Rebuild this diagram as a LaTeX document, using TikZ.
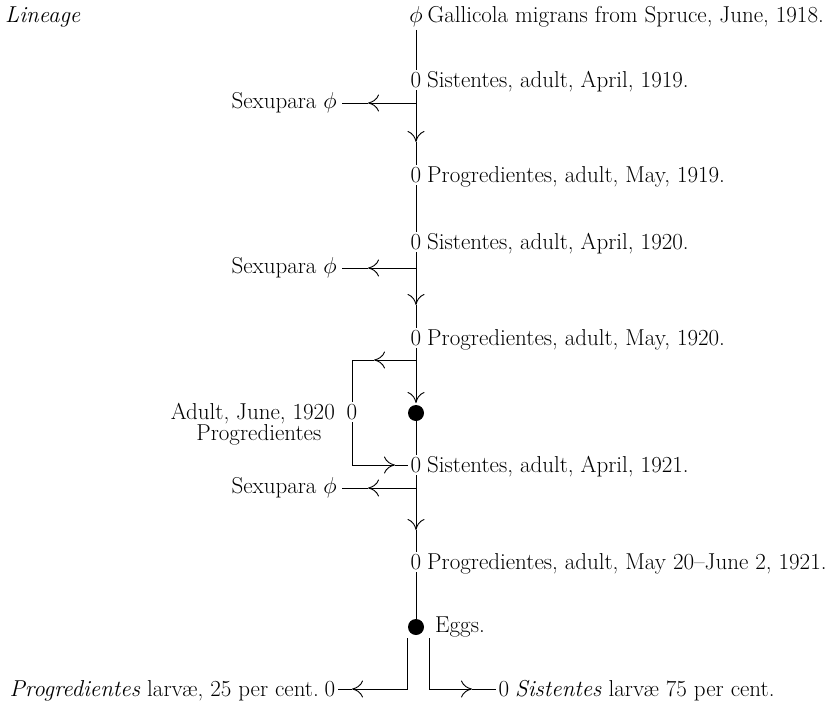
\RequirePackage{fix-cm}
\documentclass[tikz,border=0pt]{standalone}
\usetikzlibrary{arrows.meta}
\begin{document}
\begin{tikzpicture}[x=1pt,y=-1pt,
  every node/.style={font=\fontsize{23}{27}\selectfont, inner sep=0pt},
  zero/.style={inner sep=2.5pt},
  side/.style={inner xsep=5pt},
  link/.style={line width=0.9pt},
  arr/.style={link,-{Computer Modern Rightarrow[length=11pt,width=17pt,line width=0.9pt]}},
  blob/.style={circle,fill=black,minimum size=16pt,inner sep=0pt}]
\useasboundingbox (0,0) rectangle (835,704);

% heading
\node[anchor=base west] (lin) at (5,22) {\itshape Lineage};

% main column of generations
\node[zero] (g18) at (416,17) {$\phi$};
\node[anchor=base west] at ([xshift=2pt]g18.base east) {Gallicola migrans from Spruce, June, 1918.};

\node[zero] (s19) at (416,80) {0};
\node[anchor=base west] at ([xshift=3pt]s19.base east) {Sistentes, adult, April, 1919.};

\node[zero] (p19) at (416,175) {0};
\node[anchor=base west] at ([xshift=3pt]p19.base east) {Progredientes, adult, May, 1919.};

\node[zero] (s20) at (416,242) {0};
\node[anchor=base west] at ([xshift=3pt]s20.base east) {Sistentes, adult, April, 1920.};

\node[zero] (p20) at (416,338) {0};
\node[anchor=base west] at ([xshift=3pt]p20.base east) {Progredientes, adult, May, 1920.};

\node[blob] (d20) at (416,413) {};

\node[zero] (s21) at (416,465) {0};
\node[anchor=base west] at ([xshift=3pt]s21.base east) {Sistentes, adult, April, 1921.};

\node[zero] (p21) at (416,562) {0};
\node[anchor=base west] at ([xshift=3pt]p21.base east) {Progredientes, adult, May 20--June 2, 1921.};

\node[blob] (egg) at (416,627) {};
\node[anchor=west] at (435,627) {Eggs.};

% side generation of 1920
\node[zero] (a20) at (352,412) {0};
\node[anchor=base east] (adt) at ([xshift=-9pt]a20.base west) {Adult, June, 1920};
\node[anchor=base] at ([xshift=6pt,yshift=-21pt]adt.base) {Progredientes};

% sexuparae
\node[side,anchor=east] (sx1) at (342,103) {Sexupara $\phi$};
\node[side,anchor=east] (sx2) at (342,268) {Sexupara $\phi$};
\node[side,anchor=east] (sx3) at (342,488) {Sexupara $\phi$};

% larvae
\node[zero] (pl) at (330,689) {0};
\node[anchor=base east] at ([xshift=-3pt]pl.base west) {\textit{Progredientes} larv\ae, 25 per cent.};
\node[zero] (sl) at (504,689) {0};
\node[anchor=base west] at ([xshift=3pt]sl.base east) {\textit{Sistentes} larv\ae\ 75 per cent.};

% junctions, bends and arrow tips
\coordinate (j1) at (416,103);
\coordinate (j2) at (416,268);
\coordinate (j3) at (416,360);
\coordinate (j4) at (416,488);
\coordinate (t1) at (416,142);
\coordinate (t2) at (416,305);
\coordinate (t3) at (416,403);
\coordinate (t4) at (416,530);
\coordinate (h1) at (368,103);
\coordinate (h2) at (368,268);
\coordinate (h3) at (374,360);
\coordinate (h4) at (368,488);
\coordinate (c3) at (352,360);
\coordinate (c4) at (352,465);
\coordinate (h5) at (395,465);
\coordinate (bl) at (407,689);
\coordinate (br) at (429,689);
\coordinate (hl) at (352,689);
\coordinate (hr) at (472,689);

% descent
\draw[link] (g18) -- (s19);
\draw[arr] (s19) -- (t1);
\draw[link] (t1) -- (p19);
\draw[link] (p19) -- (s20);
\draw[arr] (s20) -- (t2);
\draw[link] (t2) -- (p20);
\draw[arr] (p20) -- (t3);
\draw[link] (d20) -- (s21);
\draw[arr] (s21) -- (t4);
\draw[link] (t4) -- (p21);
\draw[link] (p21) -- (egg);

% sexupara branches
\draw[arr] (j1) -- (h1);
\draw[link] (h1) -- (sx1.east);
\draw[arr] (j2) -- (h2);
\draw[link] (h2) -- (sx2.east);
\draw[arr] (j4) -- (h4);
\draw[link] (h4) -- (sx3.east);

% side loop through the June adult
\draw[arr] (j3) -- (h3);
\draw[link] (h3) -- (c3) -- (a20);
\draw[arr] (a20) -- (c4) -- (h5);
\draw[link] (h5) -- (s21);

% egg split
\draw[arr] ([xshift=-9pt,yshift=-3pt]egg.south) -- (bl) -- (hl);
\draw[link] (hl) -- (pl);
\draw[arr] ([xshift=13pt,yshift=-3pt]egg.south) -- (br) -- (hr);
\draw[link] (hr) -- (sl);
\end{tikzpicture}
\end{document}
